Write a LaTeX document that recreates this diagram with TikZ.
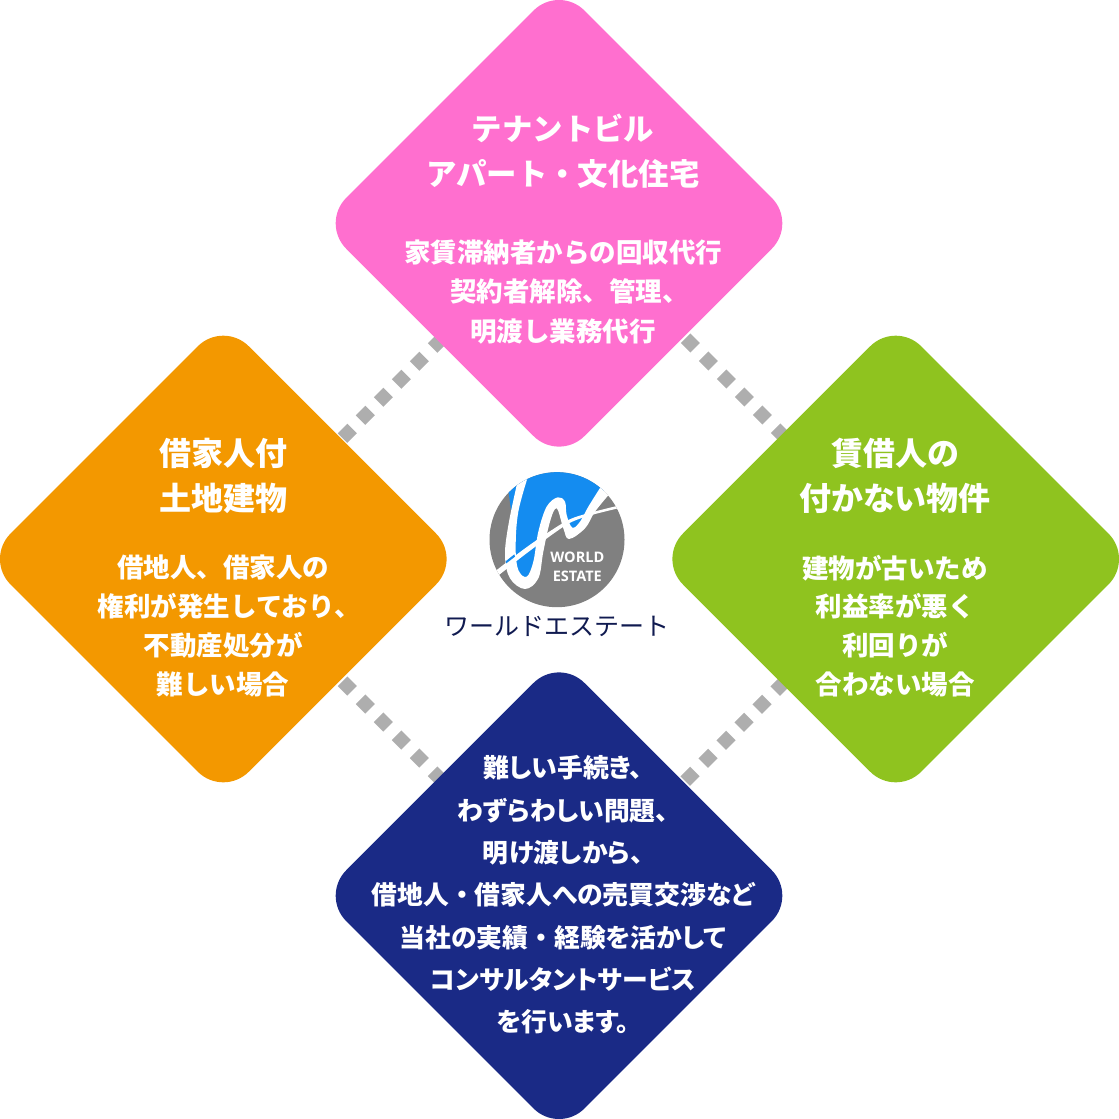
\documentclass[tikz,border=0pt]{standalone}
\usepackage{fontspec}
\usepackage{xcolor}
\setmainfont{Noto Sans CJK JP}[RawFeature=+palt]
\newfontfamily\plainjp{Noto Sans CJK JP}
\newfontfamily\logofont{Open Sans}
\usetikzlibrary{shapes.geometric,calc,backgrounds}

\definecolor{tenantpink}{HTML}{FF6FCF}
\definecolor{landorange}{HTML}{F39800}
\definecolor{vacantgreen}{HTML}{8FC31F}
\definecolor{consultnavy}{HTML}{1A2A86}
\definecolor{dotgray}{HTML}{AEAEAE}
\definecolor{logoblue}{HTML}{148CF0}
\definecolor{logogray}{HTML}{808080}
\definecolor{logoink}{HTML}{101A50}

% full width and narrow punctuation
\newcommand{\fw}[1]{{\plainjp #1}}
\newcommand{\hw}[1]{{\rmfamily #1}}

\tikzset{
  corner/.style={diamond,aspect=1,inner sep=0pt,minimum size=476.6pt,rounded corners=36pt},
  titletext/.style={text=white,align=center,font=\fontsize{32}{44.5}\selectfont\bfseries},
  bodytext/.style={text=white,align=center,font=\plainjp\fontsize{26.5}{39.5}\selectfont\bfseries},
  dotline/.style={dotgray,line width=13.5pt,dash pattern=on 13.5pt off 11.96pt,dash phase=6.75pt}
}

\begin{document}
\begin{tikzpicture}[x=1pt,y=-1pt]
\useasboundingbox (0,0) rectangle (1119,1119);

\begin{scope}
\node[corner,fill=tenantpink] (tenant) at (559,223.3) {};
\node[corner,fill=landorange] (land) at (223.3,559) {};
\node[corner,fill=vacantgreen] (vacant) at (895.7,559) {};
\node[corner,fill=consultnavy] (consult) at (559,895.7) {};
\end{scope}

\begin{scope}[on background layer]
\draw [dotline] ($(land)+(-2,0.3)$) -- ($(tenant)+(4.3,-6)$);
\draw [dotline] ($(tenant)+(5.3,-6.3)$) -- ($(vacant)+(10.6,0)$);
\draw [dotline] ($(land)+(-2,1)$) -- ($(consult)+(4.3,6.3)$);
\draw [dotline] ($(consult)+(5,6.6)$) -- ($(vacant)+(10.3,1.3)$);
\end{scope}

\node[titletext,font=\plainjp\fontsize{30.4}{44.5}\selectfont\bfseries] (tenant title) at (563,151) {テナントビル\\アパート・文化住宅};
\node[bodytext] (tenant body) at (563,292) {家賃滞納者からの回収代行\\契約者解除、管理\hw{、}\\明渡し業務代行};
\node[titletext] (land title) at (223,476) {借家人付\\土地建物};
\node[bodytext,font=\plainjp\fontsize{26.5}{38.7}\selectfont\bfseries] (land body) at (223,626) {借地人、借家人の\\権利が発生しており\hw{、}\\不動産処分が\\難しい場合};
\node[titletext] (vacant title) at (895,476) {賃借人の\\付かない物件};
\node[bodytext,font=\plainjp\fontsize{26.5}{38.7}\selectfont\bfseries] (vacant body) at (895,626) {建物が古いため\\利益率が悪く\\利回りが\\合わない場合};
\node[bodytext,font=\rmfamily\fontsize{25.8}{42.3}\selectfont\bfseries] (consult body) at (563,895) {難しい手続き、\\わずらわしい問題、\\明け渡しから、\\借地人\fw{・}借家人への売買交渉など\\当社の実績\fw{・}経験を活かして\\コンサルタントサービス\\を行います。};

% logo
\node[circle,fill=logogray,inner sep=0pt,minimum size=135pt] (logo) at (557,539.7) {};
\begin{scope}[shift={(485,465)},x=0.3333pt,y=-0.3333pt]
\clip (216,224) circle [radius=202.5];
\fill[logoblue] (60,0) -- (420,0) -- (355,80) -- (300,165) -- (255,205) -- (240,130) -- (218,115) -- (175,170) -- (155,280) -- (120,350) -- (80,290) -- (80,150) -- cycle;
\fill[white] plot[smooth,tension=0.6] coordinates {(102,30) (72,170) (60,270) (75,340) (120,372) (160,340) (175,260) (195,170) (215,130) (235,190) (252,222) (300,190) (330,140) (375,85)}
  -- plot[smooth,tension=0.6] coordinates {(352,58) (310,125) (285,170) (262,188) (245,150) (240,110) (218,97) (185,125) (160,200) (145,290) (125,335) (100,315) (92,250) (100,140) (132,25)} -- cycle;
\fill[white] plot[smooth,tension=0.5] coordinates {(34,316) (100,265) (160,222) (250,165) (320,142) (400,122)}
  -- plot[smooth,tension=0.5] coordinates {(400,130) (320,150) (252,175) (165,235) (105,280) (42,330)} -- cycle;
\fill[logoblue] (62,289) -- (88,268) -- (90,275) -- (64,295) -- cycle;
\fill[logoblue] (258,182) -- (274,168) -- (272,184) -- cycle;
\end{scope}
\node[text=white,inner sep=0pt,font=\logofont\fontsize{14.5}{14.5}\selectfont\bfseries] (world) at (577.3,557.7) {WORLD};
\node[text=white,inner sep=0pt,font=\logofont\fontsize{14.5}{14.5}\selectfont\bfseries] (estate) at (577.3,576) {ESTATE};
\node[text=logoink,inner sep=0pt,font=\plainjp\fontsize{25}{25}\selectfont] (logo name) at (556.5,626) {ワールドエステート};

\end{tikzpicture}
\end{document}
